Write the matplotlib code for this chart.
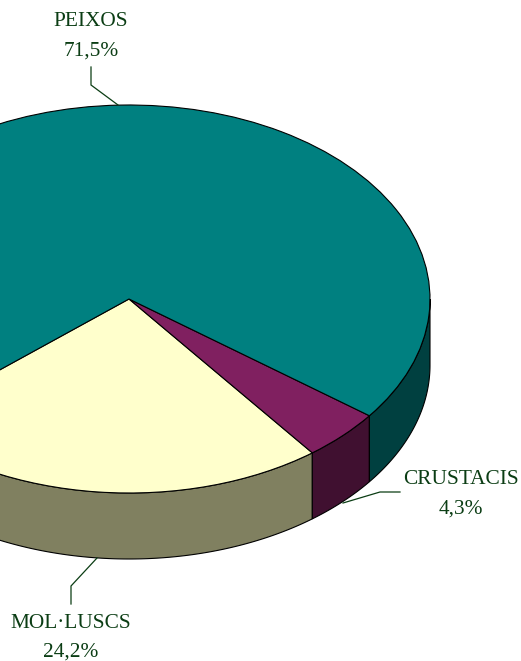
import numpy as np
import matplotlib
matplotlib.use("Agg")
import matplotlib.pyplot as plt
from matplotlib.patches import Polygon
from matplotlib.transforms import Affine2D

categories = ["MOL·LUSCS", "CRUSTACIS", "PEIXOS"]
values = [24.2, 4.3, 71.5]
value_labels = ["24,2%", "4,3%", "71,5%"]
top_colors = ["#FFFFCC", "#802060", "#008080"]
wall_colors = ["#808060", "#401030", "#004040"]

W, H = 521, 661
CX, CY, RX, RY, DEPTH = 129, 299, 301, 194, 66
TEXT = "#0B3D14"

plt.rcParams["font.family"] = ["Liberation Serif", "DejaVu Serif"]
fig = plt.figure(figsize=(W / 100, H / 100), dpi=100)
ax = fig.add_axes([0, 0, 1, 1])
wedges, _ = ax.pie(values, colors=top_colors, startangle=220.4, counterclock=True,
                   wedgeprops=dict(edgecolor="black", linewidth=0.8, zorder=3))
ax.set_aspect("auto")
ax.set_xlim((0 - CX) / RX, (W - CX) / RX)
ax.set_ylim((CY - H) / RY, CY / RY)
ax.axis("off")

d = DEPTH / RY
for w, col in zip(wedges, wall_colors):
    # visible front part of the rim: angles 180..360 (modulo a turn)
    for shift in (0, 360):
        a = max(w.theta1, 180 + shift)
        b = min(w.theta2, 360 + shift)
        if b <= a:
            continue
        t = np.radians(np.linspace(a, b, 150))
        x, y = np.cos(t), np.sin(t)
        pts = np.r_[np.c_[x, y], np.c_[x[::-1], y[::-1] - d]]
        ax.add_patch(Polygon(pts, closed=True, facecolor=col, edgecolor="black",
                             linewidth=0.8, zorder=2))

px = Affine2D().scale(1, -1).translate(0, H)  # reference pixel coordinates
label_xy = [(71, 623), (461, 480), (91, 22)]
line_paths = [
    [(71, 604), (71, 586), (97, 558)],
    [(400, 492), (380, 492), (343, 503)],
    [(91, 67), (91, 85), (118, 105)],
]
for name, val, (lx, ly), path in zip(categories, value_labels, label_xy, line_paths):
    ax.text(lx, ly, name, transform=px, ha="center", va="center", fontsize=15.4, color=TEXT)
    ax.text(lx, ly + 29, val, transform=px, ha="center", va="center", fontsize=15.4, color=TEXT)
    xs, ys = zip(*path)
    ax.plot(xs, ys, transform=px, color=TEXT, lw=0.9, zorder=4, solid_joinstyle="miter")

fig.savefig("out.png", dpi=100, facecolor="white")
